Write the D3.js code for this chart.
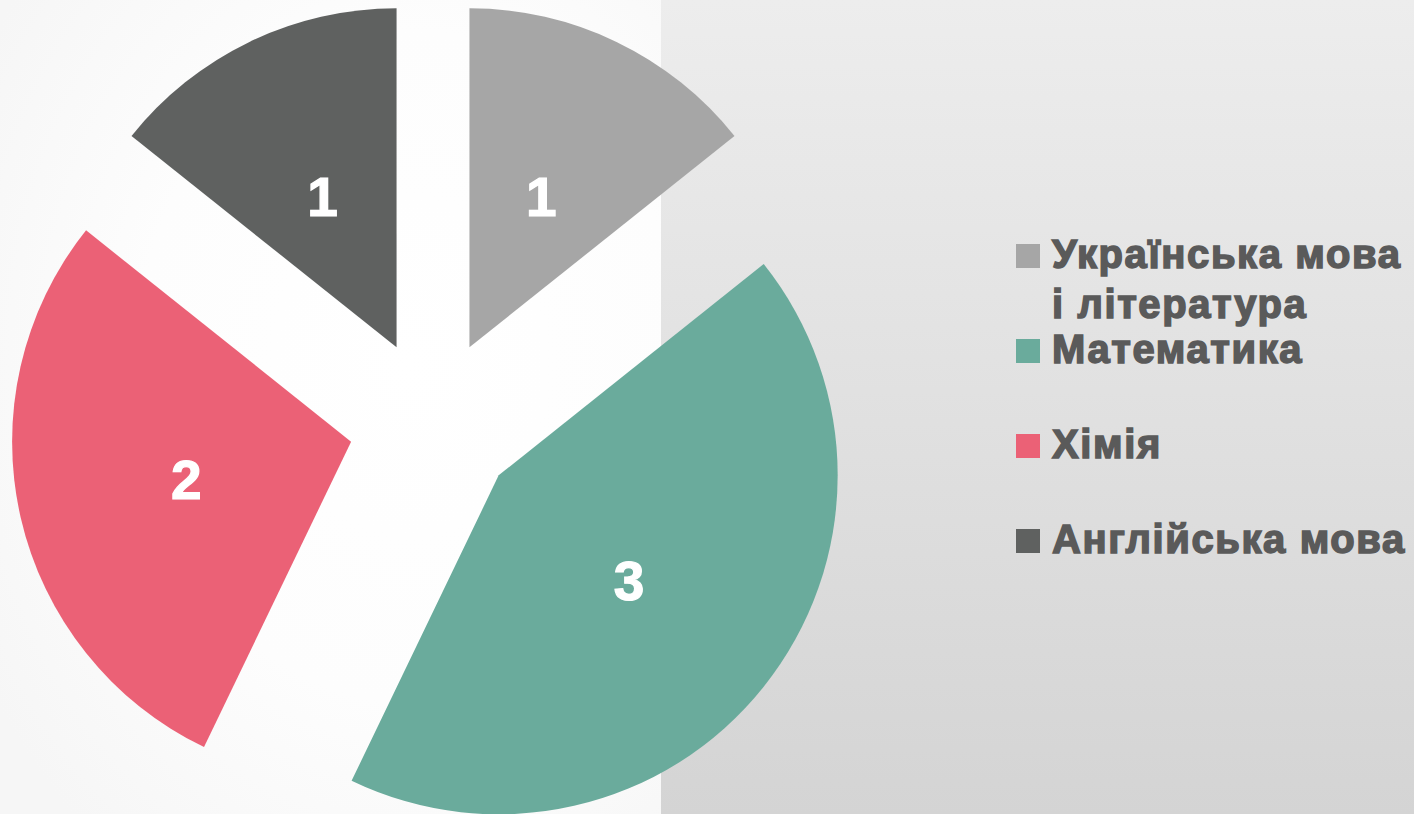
<!DOCTYPE html>
<html>
<head>
<meta charset="utf-8">
<script src="https://cdn.jsdelivr.net/npm/d3@7"></script>
<style>
html,body{margin:0;padding:0;background:#fff;}
svg{display:block;}
</style>
</head>
<body>
<svg id="chart" width="1414" height="814"></svg>
<script>
const categories = ["Українська мова і література", "Математика", "Хімія", "Англійська мова"];
const legendLines = [["Українська мова", "і література"], ["Математика"], ["Хімія"], ["Англійська мова"]];
const values = [1, 3, 2, 1];
const colors = ["#a6a6a6", "#6aab9c", "#eb6176", "#5f6160"];

const W = 1414, H = 814;
const svg = d3.select("#chart");
const defs = svg.append("defs");

const rg = defs.append("radialGradient").attr("id", "leftBg")
  .attr("cx", "0.62").attr("cy", "0.45").attr("r", "0.75");
rg.append("stop").attr("offset", "0").attr("stop-color", "#ffffff");
rg.append("stop").attr("offset", "0.55").attr("stop-color", "#fdfdfd");
rg.append("stop").attr("offset", "1").attr("stop-color", "#f6f6f6");

const lg = defs.append("linearGradient").attr("id", "rightBg")
  .attr("x1", 0).attr("y1", 0).attr("x2", 0).attr("y2", 1);
lg.append("stop").attr("offset", "0").attr("stop-color", "#ededed");
lg.append("stop").attr("offset", "1").attr("stop-color", "#d4d4d4");

svg.append("rect").attr("x", 0).attr("y", 0).attr("width", 661).attr("height", H).attr("fill", "url(#leftBg)");
svg.append("rect").attr("x", 661).attr("y", 0).attr("width", W - 661).attr("height", H).attr("fill", "url(#rightBg)");

const cx = 433, cy = 423, R = 339, explode = 84, labelR = 168;

const pie = d3.pie().sort(null).value(d => d).startAngle(0).endAngle(2 * Math.PI);
const arcs = pie(values);
const arc = d3.arc().innerRadius(0).outerRadius(R);

const g = svg.append("g").attr("transform", `translate(${cx},${cy})`);

const slices = g.selectAll("g.slice").data(arcs).enter().append("g")
  .attr("class", "slice")
  .attr("transform", d => {
    const a = (d.startAngle + d.endAngle) / 2;
    return `translate(${Math.sin(a) * explode},${-Math.cos(a) * explode})`;
  });

slices.append("path").attr("d", arc).attr("fill", (d, i) => colors[i]);

slices.append("text")
  .attr("x", d => Math.sin((d.startAngle + d.endAngle) / 2) * labelR - 1)
  .attr("y", d => -Math.cos((d.startAngle + d.endAngle) / 2) * labelR)
  .attr("dy", "0.36em")
  .attr("text-anchor", "middle")
  .attr("fill", "#ffffff")
  .attr("font-family", "Liberation Sans, Arial, sans-serif")
  .attr("font-weight", "bold")
  .attr("font-size", 55)
  .attr("stroke", "#ffffff").attr("stroke-width", 1.2)
  .text(d => d.data);

// Legend
const legendY = d3.scaleLinear().domain([0, 3]).range([256, 541]);
const leg = svg.append("g");
const items = leg.selectAll("g.item").data(categories).enter().append("g").attr("class", "item");
items.append("rect")
  .attr("x", 1016).attr("y", (d, i) => legendY(i) - 12)
  .attr("width", 24).attr("height", 24)
  .attr("fill", (d, i) => colors[i]);
items.append("text")
  .attr("x", 1052)
  .attr("y", (d, i) => legendY(i) + 12)
  .attr("fill", "#5a5a5a")
  .attr("stroke", "#5a5a5a").attr("stroke-width", 1.5)
  .attr("font-family", "Liberation Sans, Arial, sans-serif")
  .attr("font-weight", "bold")
  .attr("font-size", 40)
  .attr("letter-spacing", 1.6)
  .each(function (d, i) {
    const t = d3.select(this);
    legendLines[i].forEach((line, j) => {
      t.append("tspan").attr("x", 1052).attr("dy", j === 0 ? 0 : 50).text(line);
    });
  });
</script>
</body>
</html>
